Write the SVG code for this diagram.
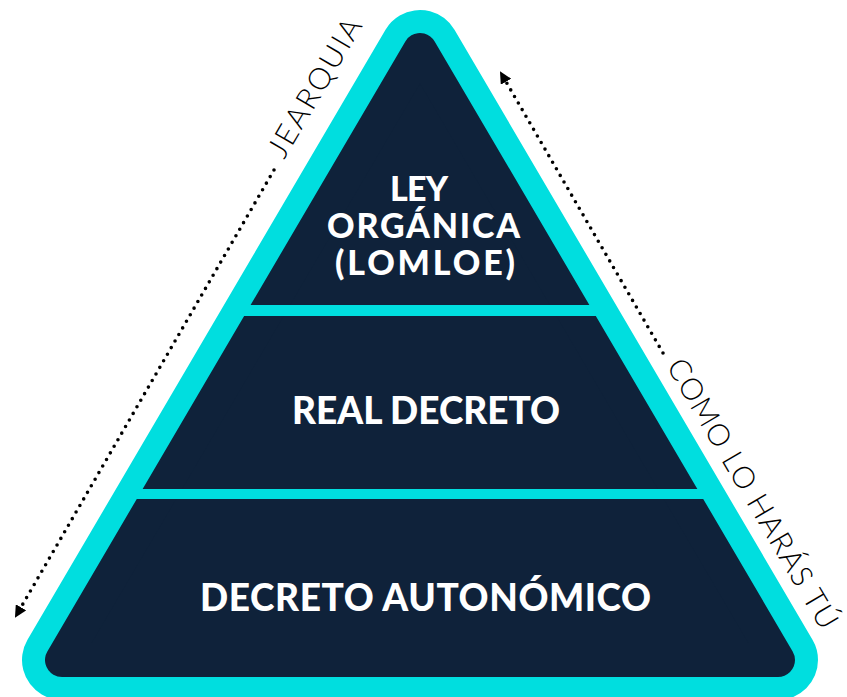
<svg xmlns="http://www.w3.org/2000/svg" width="847" height="697" viewBox="0 0 847 697">
  <style>
    .cyan { fill: #00DEDF; stroke: #00DEDF; stroke-linejoin: round; }
    .navy { fill: #0F223A; stroke: #0F223A; stroke-linejoin: round; }
    .band { fill: #00DEDF; }
    .tier { fill: #FFFFFF; font-family: "Lato", "Liberation Sans", sans-serif; font-weight: 900; text-anchor: middle; }
    .side { fill: #000000; font-family: "Lato", "Liberation Sans", sans-serif; font-weight: 300; font-size: 30px; }
    .dots { fill: none; stroke: #000000; stroke-width: 3.6; stroke-linecap: round; stroke-dasharray: 0 7.6; }
  </style>
  <defs>
    <marker id="arrow" viewBox="0 0 12 12" refX="2" refY="6" markerWidth="12" markerHeight="12" markerUnits="userSpaceOnUse" orient="auto">
      <path d="M0,0 L12,6 L0,12 z" fill="#000000"/>
    </marker>
  </defs>
  <rect width="847" height="697" fill="#FFFFFF"/>

  <g id="pyramid-frame">
    <polygon class="cyan" stroke-width="80" points="420,50 62,660 778,660"/>
    <polygon class="navy" stroke-width="34" points="420,50 62,660 778,660"/>
    <rect class="band" x="240" y="305" width="360" height="11"/>
    <rect class="band" x="125" y="489" width="590" height="10"/>
  </g>

  <g id="tier-ley-organica">
    <text class="tier" x="419" y="201" font-size="34" textLength="58">LEY</text>
    <text class="tier" x="423.5" y="238" font-size="34" textLength="193">ORGÁNICA</text>
    <text class="tier" x="425" y="275" font-size="34" textLength="180">(LOMLOE)</text>
  </g>

  <g id="tier-real-decreto">
    <text class="tier" x="426" y="424" font-size="37" textLength="268">REAL DECRETO</text>
  </g>

  <g id="tier-decreto-autonomico">
    <text class="tier" x="425.5" y="611" font-size="37" textLength="451">DECRETO AUTONÓMICO</text>
  </g>

  <g id="label-jerarquia">
    <text class="side" transform="translate(284,160) rotate(-59.6)" textLength="156">JEARQUIA</text>
  </g>

  <g id="label-como-lo-haras-tu">
    <text class="side" transform="translate(666,366) rotate(59.6)" textLength="308">COMO LO HARÁS TÚ</text>
  </g>

  <g id="connectors">
    <line class="dots" x1="274" y1="170" x2="20" y2="609" marker-end="url(#arrow)"/>
    <line class="dots" x1="663" y1="353" x2="505" y2="80" marker-end="url(#arrow)"/>
  </g>
</svg>
